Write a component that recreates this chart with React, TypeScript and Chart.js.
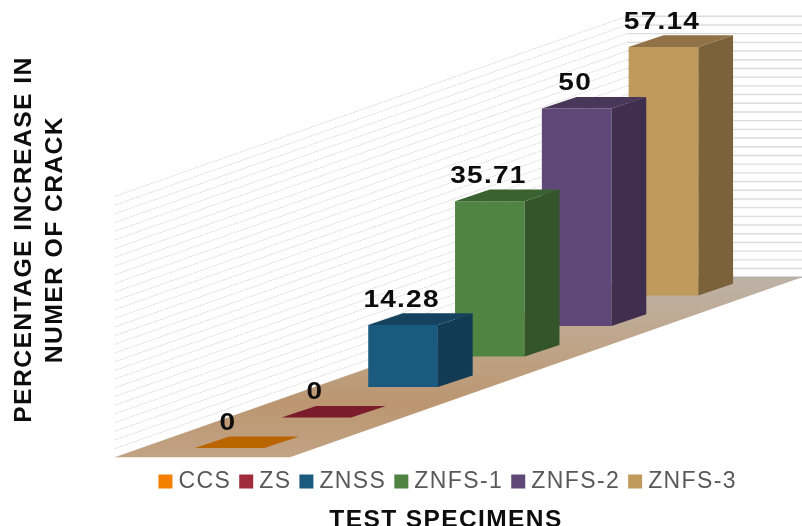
import React, { useEffect, useRef } from "react";
import { Chart, registerables } from "chart.js";

Chart.register(...registerables);

const categories = ["CCS", "ZS", "ZNSS", "ZNFS-1", "ZNFS-2", "ZNFS-3"];
const values = [0, 0, 14.28, 35.71, 50, 57.14];
const frontColors = ["#F58000", "#A02B3B", "#1B5A7F", "#4F8442", "#5F4878", "#C09A5C"];
const sideColors = ["#A85A00", "#6F1A28", "#123A52", "#345529", "#3F2E4E", "#7C623A"];
const topColors = ["#BA6400", "#7B1C2C", "#14425F", "#3A6230", "#483759", "#917246"];
const wallTicks = 60; // the value axis of the original runs to 60, one grid line per 2

const RANK_RISE = 7.02;  // each category stands this many axis units further back
const DEPTH_RISE = 2.67; // depth of a bar, in axis units
const DEPTH_RUN = 0.4;   // depth of a bar, in category widths
const FLOOR_DROP = 2.12; // the floor's front edge below a first bar's base, in axis units
const FLOOR_LEFT = 115;
const FLOOR_WIDTH = 175;
const WALL_CORNER = 627;
const LEGEND_SHIFT = 4.5;

const poly = (ctx: CanvasRenderingContext2D, pts: number[][], fill: string) => {
  ctx.beginPath();
  pts.forEach((p, i) => (i ? ctx.lineTo(p[0], p[1]) : ctx.moveTo(p[0], p[1])));
  ctx.closePath();
  ctx.fillStyle = fill;
  ctx.fill();
};

const spacing = (chart: any) => {
  chart.ctx.letterSpacing = "1.4px";
};

const scene3d = {
  id: "scene3d",
  beforeLayout: spacing,
  beforeDraw: spacing,
  afterLayout(chart: any) {
    chart.legend.left += LEGEND_SHIFT;
    chart.legend.right += LEGEND_SHIFT;
  },
  beforeDatasetsDraw(chart: any) {
    const { ctx, scales } = chart;
    const y = scales.y;
    const y0 = y.getPixelForValue(-FLOOR_DROP);
    const unit = y.getPixelForValue(0) - y.getPixelForValue(1);
    const rise = scales.x.getPixelForValue(1) - scales.x.getPixelForValue(0);
    const slope = (RANK_RISE * unit) / rise;
    const back = y0 - (WALL_CORNER - FLOOR_LEFT) * slope;
    const right = chart.width;

    ctx.save();
    ctx.lineWidth = 1;
    y.ticks
      .filter((t: any) => t.value <= wallTicks)
      .forEach((t: any) => {
        const h = t.value * unit;
        ctx.strokeStyle = "#D6D6D6";
        ctx.setLineDash([1.5, 1]);
        ctx.beginPath();
        ctx.moveTo(FLOOR_LEFT, y0 - h);
        ctx.lineTo(WALL_CORNER, back - h);
        ctx.stroke();
        ctx.setLineDash([]);
        ctx.strokeStyle = "#DCDCDC";
        ctx.lineWidth = 1.4;
        ctx.beginPath();
        ctx.moveTo(WALL_CORNER, back - h);
        ctx.lineTo(right, back - h);
        ctx.stroke();
        ctx.lineWidth = 1;
      });
    const g = ctx.createLinearGradient(0, y0, 0, back);
    g.addColorStop(0, "#C2A385");
    g.addColorStop(0.3, "#BB9670");
    g.addColorStop(0.65, "#BFA68B");
    g.addColorStop(1, "#BDB2A7");
    poly(
      ctx,
      [
        [FLOOR_LEFT, y0],
        [FLOOR_LEFT + FLOOR_WIDTH, y0],
        [right, back],
        [WALL_CORNER, back],
      ],
      g
    );
    ctx.strokeStyle = "#A9A9A9";
    ctx.beginPath();
    ctx.moveTo(WALL_CORNER, back);
    ctx.lineTo(right, back);
    ctx.stroke();
    ctx.restore();
  },
  afterDatasetDraw(chart: any, args: any) {
    const { ctx, scales } = chart;
    const i = args.index;
    const bar = chart.getDatasetMeta(i).data[i];
    if (!bar) return;
    const { x, y, base, width } = bar.getProps(["x", "y", "base", "width"], true);
    const l = x - width / 2;
    const r = x + width / 2;
    const dx = (scales.x.getPixelForValue(1) - scales.x.getPixelForValue(0)) * DEPTH_RUN;
    const dy = (scales.y.getPixelForValue(0) - scales.y.getPixelForValue(DEPTH_RISE));
    ctx.save();
    if (base - y > 0.5) {
      poly(ctx, [[r, y], [r + dx, y - dy], [r + dx, base - dy], [r, base]], sideColors[i]);
    }
    poly(ctx, [[l, y], [l + dx, y - dy], [r + dx, y - dy], [r, y]], topColors[i]);
    ctx.restore();
  },
  afterDatasetsDraw(chart: any) {
    const { ctx } = chart;
    ctx.save();
    values.forEach((v, i) => {
      const bar = chart.getDatasetMeta(i).data[i];
      if (!bar) return;
      const { x, y } = bar.getProps(["x", "y"], true);
      ctx.translate(x - 1.5, y - 24.5);
      ctx.scale(1.22, 1);
      ctx.letterSpacing = "1px";
      ctx.font = "bold 23px 'Liberation Sans'";
      ctx.fillStyle = "#0D0D0D";
      ctx.textAlign = "center";
      ctx.textBaseline = "middle";
      ctx.fillText(String(v), 0, 0);
      ctx.setTransform(1, 0, 0, 1, 0, 0);
    });
    ctx.restore();
  },
};

export default function App() {
  const ref = useRef<HTMLCanvasElement>(null);
  useEffect(() => {
    const chart = new Chart(ref.current!, {
      type: "bar",
      data: {
        labels: categories,
        datasets: categories.map((name, k) => ({
          label: name,
          data: categories.map((_, i) =>
            i === k ? [k * RANK_RISE, k * RANK_RISE + values[k]] : null
          ),
          backgroundColor: frontColors[k],
          borderWidth: 0,
          barPercentage: 0.803,
          categoryPercentage: 1,
          grouped: false,
        })) as any,
      },
      plugins: [scene3d],
      options: {
        responsive: false,
        animation: false,
        events: [],
        layout: { padding: { left: 90, right: 0, top: 31, bottom: 0 } },
        plugins: {
          tooltip: { enabled: false },
          legend: {
            position: "bottom",
            labels: {
              color: "#595959",
              font: { family: "'Liberation Sans'", size: 23 },
              usePointStyle: true,
              pointStyle: "rect",
              boxWidth: 3,
              boxHeight: 14,
              padding: 13.5,
            },
          },
          title: {
            display: true,
            position: "bottom",
            text: "TEST SPECIMENS",
            color: "#0D0D0D",
            font: { family: "'Liberation Sans'", size: 24.5, weight: "bold", lineHeight: 1.2 },
            padding: { top: 2.6, bottom: -9 },
          },
        },
        scales: {
          x: {
            ticks: { display: false },
            grid: { display: false },
            border: { display: false },
            afterFit: (s: any) => {
              s.height = 8.4;
            },
          },
          y: {
            min: 0,
            max: 95.9,
            ticks: { display: false, stepSize: 2 },
            grid: { display: false },
            border: { display: false },
            title: {
              display: true,
              text: ["PERCENTAGE INCREASE IN", "NUMER OF CRACK"],
              color: "#0D0D0D",
              font: { family: "'Liberation Sans'", size: 24.7, weight: "bold", lineHeight: 1.255 },
              padding: { top: -81, bottom: 0 },
            },
            afterFit: (s: any) => {
              s.width = 96.1;
            },
          },
          rightGap: {
            type: "linear",
            position: "right",
            ticks: { display: false },
            grid: { display: false },
            border: { display: false },
            afterFit: (s: any) => {
              s.width = 95.1;
            },
          },
        },
      } as any,
    });
    return () => chart.destroy();
  }, []);
  return (
    <canvas
      ref={ref}
      width={802}
      height={526}
      style={{ position: "absolute", left: 0, top: 0, display: "block" }}
    />
  );
}
